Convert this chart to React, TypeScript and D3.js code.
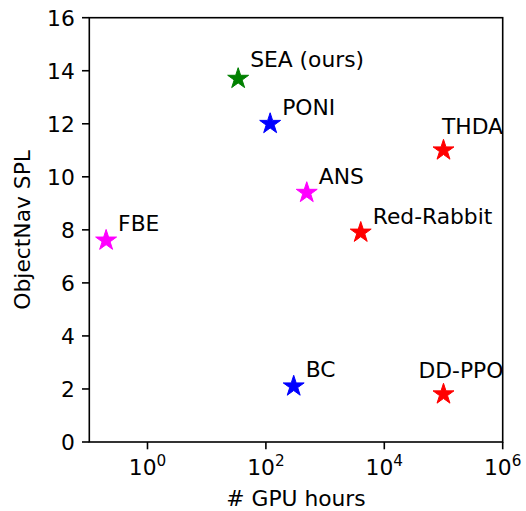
import React from "react";
import * as d3 from "d3";

// methods, compute cost (GPU hours) and ObjectNav SPL
const methods = ["FBE", "SEA (ours)", "PONI", "ANS", "Red-Rabbit", "THDA", "BC", "DD-PPO"];
const gpuHours = [0.2, 34, 118, 490, 4000, 100000, 295, 100000];
const spl = [7.6, 13.7, 12.0, 9.4, 7.9, 11.0, 2.1, 1.8];
const colors = ["#ff00ff", "#008000", "#0000ff", "#ff00ff", "#ff0000", "#ff0000", "#0000ff", "#ff0000"];
// label nudges (px) relative to the marker
const labelDx = [12, 12, 12, 12, 12, -1.5, 12, -25];
const labelDy = [-9, -11.5, -9, -9, -9, -16.5, -9.5, -16];

const yTicks = [0, 2, 4, 6, 8, 10, 12, 14, 16];
const xTickExps = [0, 2, 4, 6];

const W = 526;
const H = 511;
const margin = { left: 89.3, right: 23.3, top: 17.7, bottom: 69 };
const FONT = "DejaVu Sans, sans-serif";
const FS = 21.8;

export default function App() {
  const x = d3
    .scaleLog()
    .domain([0.104, 1e6])
    .range([margin.left, W - margin.right]);
  const y = d3
    .scaleLinear()
    .domain([0, 16])
    .range([H - margin.bottom, margin.top]);

  const star = d3.symbol(d3.symbolStar).size((11 * 11) / 0.8908130915292852)();

  const x0 = margin.left;
  const x1 = W - margin.right;
  const y0 = H - margin.bottom;
  const y1 = margin.top;

  return (
    <svg
      width={W}
      height={H}
      style={{ position: "absolute", left: 0, top: 0, background: "#fff" }}
      fontFamily={FONT}
    >
      {/* markers */}
      {methods.map((m, i) => (
        <path
          key={m}
          d={star || ""}
          transform={`translate(${x(gpuHours[i])},${y(spl[i])})`}
          fill={colors[i]}
          stroke={colors[i]}
          strokeWidth={1}
          strokeLinejoin="bevel"
        />
      ))}

      {/* annotations */}
      {methods.map((m, i) => (
        <text
          key={"l" + m}
          x={x(gpuHours[i]) + labelDx[i]}
          y={y(spl[i]) + labelDy[i]}
          fontSize={FS}
          fill="#000"
        >
          {m}
        </text>
      ))}

      {/* frame */}
      <rect
        x={x0}
        y={y1}
        width={x1 - x0}
        height={y0 - y1}
        fill="none"
        stroke="#000"
        strokeWidth={1.6}
      />

      {/* y axis */}
      {yTicks.map((t) => (
        <g key={"y" + t}>
          <line x1={x0 - 7.3} x2={x0} y1={y(t)} y2={y(t)} stroke="#000" strokeWidth={1.6} />
          <text
            x={x0 - 14.5}
            y={y(t)}
            dy="0.36em"
            textAnchor="end"
            fontSize={FS}
            fill="#000"
          >
            {t}
          </text>
        </g>
      ))}

      {/* x axis */}
      {xTickExps.map((e) => (
        <g key={"x" + e}>
          <line
            x1={x(Math.pow(10, e))}
            x2={x(Math.pow(10, e))}
            y1={y0}
            y2={y0 + 7.3}
            stroke="#000"
            strokeWidth={1.6}
          />
          <text
            x={x(Math.pow(10, e))}
            y={474.5}
            textAnchor="middle"
            fontSize={FS}
            fill="#000"
          >
            10
            <tspan fontSize={FS * 0.7} dy={-8.5}>
              {e}
            </tspan>
          </text>
        </g>
      ))}

      <text
        x={(x0 + x1) / 2}
        y={506}
        textAnchor="middle"
        fontSize={FS}
        fill="#000"
      >
        # GPU hours
      </text>
      <text
        transform={`translate(29.5,${(y0 + y1) / 2}) rotate(-90)`}
        textAnchor="middle"
        fontSize={FS}
        fill="#000"
      >
        ObjectNav SPL
      </text>
    </svg>
  );
}
